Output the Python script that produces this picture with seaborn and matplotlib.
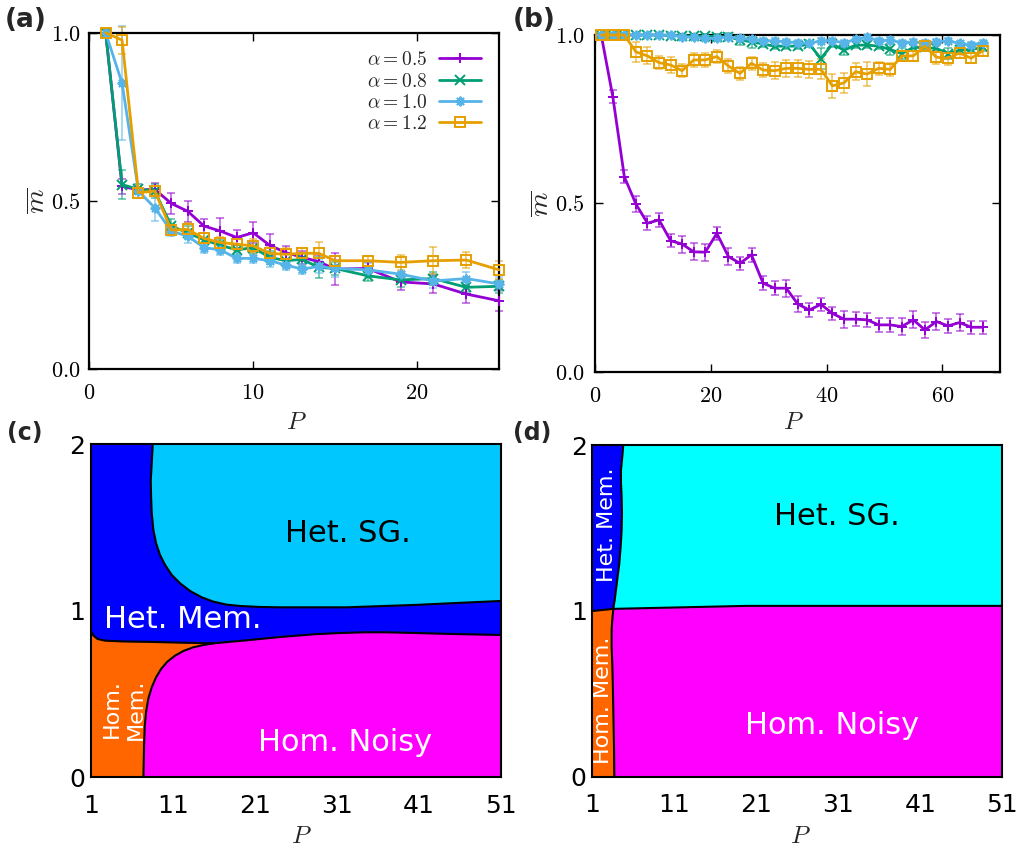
import numpy as np
import matplotlib
matplotlib.use("Agg")
import matplotlib.pyplot as plt
import seaborn as sns

# ---- (a) m vs P, small P
P_a = [1, 2, 3, 4, 5, 6, 7, 8, 9, 10, 11, 12, 13, 14, 15, 17, 19, 21, 23, 25]
m05_a = [1.0, 0.544, 0.533, 0.535, 0.493, 0.470, 0.426, 0.411, 0.392, 0.406,
         0.369, 0.347, 0.333, 0.320, 0.298, 0.300, 0.260, 0.254, 0.224, 0.204]
m08_a = [1.0, 0.549, 0.535, 0.530, 0.426, 0.406, 0.385, 0.369, 0.355, 0.362,
         0.333, 0.323, 0.327, 0.303, 0.300, 0.278, 0.266, 0.270, 0.244, 0.247]
m10_a = [1.0, 0.850, 0.530, 0.480, 0.411, 0.396, 0.362, 0.355, 0.330, 0.330,
         0.323, 0.310, 0.298, 0.306, 0.300, 0.296, 0.283, 0.263, 0.270, 0.254]
m12_a = [1.0, 0.978, 0.525, 0.530, 0.414, 0.416, 0.389, 0.377, 0.372, 0.367,
         0.345, 0.342, 0.345, 0.345, 0.323, 0.323, 0.318, 0.323, 0.325, 0.296]
e05_a = [0.01, 0.022, 0.01, 0.02, 0.03, 0.031, 0.022, 0.04, 0.023, 0.031,
         0.032, 0.02, 0.02, 0.02, 0.048, 0.02, 0.025, 0.027, 0.026, 0.031]
e08_a = [0.01, 0.042, 0.015, 0.02, 0.02, 0.02, 0.02, 0.015, 0.015, 0.02,
         0.02, 0.02, 0.02, 0.03, 0.02, 0.015, 0.02, 0.02, 0.015, 0.02]
e10_a = [0.01, 0.17, 0.02, 0.04, 0.015, 0.02, 0.015, 0.015, 0.015, 0.015,
         0.02, 0.015, 0.015, 0.02, 0.025, 0.02, 0.02, 0.02, 0.02, 0.02]
e12_a = [0.01, 0.04, 0.015, 0.015, 0.015, 0.02, 0.015, 0.015, 0.02, 0.02,
         0.02, 0.02, 0.015, 0.033, 0.015, 0.015, 0.022, 0.04, 0.025, 0.027]

# ---- (b) m vs P, large P
P_b = [1, 3, 5, 7, 9, 11, 13, 15, 17, 19, 21, 23, 25, 27, 29, 31, 33,
       35, 37, 39, 41, 43, 45, 47, 49, 51, 53, 55, 57, 59, 61, 63, 65, 67]
m05_b = [1.0, 0.817, 0.579, 0.498, 0.441, 0.451, 0.389, 0.379, 0.356, 0.355,
         0.411, 0.342, 0.322, 0.347, 0.263, 0.248, 0.248, 0.201, 0.183, 0.200,
         0.173, 0.156, 0.156, 0.154, 0.139, 0.139, 0.134, 0.154, 0.124, 0.149,
         0.136, 0.146, 0.132, 0.132]
m08_b = [1.0, 1.0, 1.0, 1.0, 1.0, 1.0, 0.998, 0.998, 0.997, 0.997, 0.995,
         0.995, 0.985, 0.980, 0.973, 0.967, 0.967, 0.967, 0.973, 0.930, 0.973,
         0.955, 0.970, 0.970, 0.967, 0.957, 0.945, 0.963, 0.963, 0.960, 0.945,
         0.955, 0.957, 0.963]
m10_b = [1.0, 1.0, 1.0, 1.0, 1.0, 1.0, 1.0, 0.995, 0.993, 0.990, 0.990, 0.995,
         0.990, 0.987, 0.983, 0.983, 0.980, 0.977, 0.975, 0.983, 0.983, 0.977,
         0.987, 0.993, 0.983, 0.985, 0.977, 0.980, 0.977, 0.980, 0.983, 0.975,
         0.970, 0.977]
m12_b = [1.0, 1.0, 1.0, 0.950, 0.938, 0.918, 0.911, 0.894, 0.926, 0.926, 0.936,
         0.908, 0.886, 0.916, 0.896, 0.894, 0.901, 0.901, 0.898, 0.898, 0.849,
         0.858, 0.891, 0.884, 0.901, 0.898, 0.938, 0.938, 0.967, 0.934, 0.931,
         0.947, 0.931, 0.953]
e05_b = [0.005, 0.02, 0.02, 0.025, 0.02, 0.02, 0.02, 0.025, 0.025, 0.025, 0.02,
         0.025, 0.02, 0.02, 0.02, 0.02, 0.025, 0.025, 0.02, 0.02, 0.02, 0.025,
         0.02, 0.02, 0.02, 0.02, 0.025, 0.025, 0.025, 0.025, 0.02, 0.025, 0.02, 0.02]
e08_b = [0.003, 0.003, 0.003, 0.003, 0.003, 0.003, 0.005, 0.005, 0.005, 0.005,
         0.008, 0.01, 0.015, 0.02, 0.01, 0.01, 0.01, 0.01, 0.01, 0.03, 0.01,
         0.015, 0.01, 0.01, 0.01, 0.015, 0.015, 0.01, 0.01, 0.01, 0.015, 0.01, 0.01, 0.01]
e10_b = [0.003, 0.003, 0.003, 0.003, 0.003, 0.003, 0.005, 0.005, 0.005, 0.005,
         0.005, 0.005, 0.008, 0.008, 0.008, 0.008, 0.008, 0.008, 0.008, 0.008,
         0.008, 0.008, 0.008, 0.008, 0.008, 0.008, 0.008, 0.008, 0.008, 0.008,
         0.008, 0.008, 0.008, 0.008]
e12_b = [0.005, 0.005, 0.005, 0.03, 0.025, 0.02, 0.025, 0.02, 0.02, 0.02, 0.02,
         0.02, 0.02, 0.02, 0.02, 0.025, 0.025, 0.025, 0.025, 0.03, 0.035, 0.03,
         0.025, 0.035, 0.02, 0.02, 0.015, 0.015, 0.015, 0.02, 0.02, 0.015, 0.015, 0.015]

alpha_labels = [r'$\alpha = 0.5$', r'$\alpha = 0.8$', r'$\alpha = 1.0$', r'$\alpha = 1.2$']
colores = ['#9400D3', '#009E73', '#56B4E9', '#E69F00']
marcadores = ['+', 'x', (8, 2, 0), 's']

# ---- (c) phase diagram, boundaries (P, alpha)
sg_P = [8.53, 8.41, 8.29, 8.33, 8.41, 8.61, 8.94, 9.42, 10.04, 10.85, 11.87,
        13.09, 14.51, 15.94, 17.56, 19.19, 21.63, 24.08, 32.2, 40.4, 46.5, 51.0]
sg_a = [2.0, 1.883, 1.784, 1.683, 1.584, 1.484, 1.404, 1.334, 1.274, 1.214, 1.164,
        1.118, 1.080, 1.054, 1.036, 1.028, 1.022, 1.020, 1.02, 1.034, 1.048, 1.058]
low_P = [1.0, 1.3, 1.8, 2.7, 5.0, 7.8, 11.9, 15.94, 20.0, 24.1, 28.2, 31.0,
         34.3, 37.0, 40.4, 45.0, 51.0]
low_a = [0.875, 0.85, 0.83, 0.82, 0.815, 0.813, 0.808, 0.804, 0.822, 0.842,
         0.858, 0.865, 0.87, 0.87, 0.866, 0.86, 0.854]
hom_P = [15.94, 14.72, 13.49, 12.27, 11.26, 10.32, 9.55, 8.94, 8.41, 8.0,
         7.72, 7.55, 7.47, 7.39]
hom_a = [0.804, 0.794, 0.780, 0.758, 0.730, 0.694, 0.650, 0.600, 0.540, 0.474,
         0.394, 0.304, 0.184, 0.0]

# ---- (d) phase diagram, boundaries
up_P = [4.78, 4.66, 4.5, 4.5, 4.58, 4.62, 4.58, 4.46, 4.30, 4.09, 3.89, 3.73, 3.57]
up_a = [2.0, 1.930, 1.849, 1.769, 1.688, 1.588, 1.487, 1.387, 1.287, 1.206,
        1.126, 1.065, 1.012]
hz_P = [1.0, 3.57, 11.7, 19.8, 32.0, 51.0]
hz_a = [0.999, 1.012, 1.021, 1.03, 1.03, 1.03]
dn_P = [3.57, 3.44, 3.36, 3.36, 3.44, 3.52, 3.57, 3.65, 3.69]
dn_a = [1.012, 0.945, 0.885, 0.784, 0.683, 0.523, 0.382, 0.181, 0.0]

fase_P_ticks = [1, 11, 21, 31, 41, 51]
fase_a_ticks = [0, 1, 2]

c_hetmem = '#0000FF'
c_sg_c = '#00C8FF'
c_sg_d = '#00FFFF'
c_hommem = '#FF6600'
c_noisy = '#FF00FF'

sns.set_theme(style="ticks")
plt.rcParams['font.family'] = ['DejaVu Sans']
plt.rcParams['mathtext.fontset'] = 'cm'
plt.rcParams['axes.edgecolor'] = 'black'
plt.rcParams['xtick.color'] = 'black'
plt.rcParams['ytick.color'] = 'black'

fig = plt.figure(figsize=(10.24, 8.48), dpi=100)
ax_a = fig.add_axes([0.0872, 0.5643, 0.4001, 0.3971])
ax_b = fig.add_axes([0.5815, 0.5617, 0.3951, 0.3970])
ax_c = fig.add_axes([0.0889, 0.0834, 0.4001, 0.3930])
ax_d = fig.add_axes([0.5784, 0.0841, 0.4004, 0.3911])


def curvas(ax, P, series, errs, con_label):
    for m, e, lab, col, mk in zip(series, errs, alpha_labels, colores, marcadores):
        ax.errorbar(P, m, yerr=e, fmt='none', ecolor=col, elinewidth=1.2,
                    capsize=3, capthick=1.2, alpha=0.6, zorder=2, clip_on=False)
        extra = {'label': lab} if con_label else {}
        sns.lineplot(x=P, y=m, ax=ax, color=col, lw=2, marker=mk, ms=7,
                     mec=col, mew=1.4, mfc='none', zorder=3, clip_on=False, **extra)


def estilo_curvas(ax, xt, xl, px, py, xlab_pos, ylab_pos):
    ax.set_ylim(0, 1)
    ax.set_yticks([0, 0.5, 1.0])
    ax.set_yticklabels(['$0.0$', '$0.5$', '$1.0$'])
    ax.set_xticks(xt)
    ax.set_xticklabels(xl)
    ax.tick_params(axis='both', direction='in', top=True, right=True,
                   length=6, width=1, labelsize=16)
    ax.tick_params(axis='x', pad=px)
    ax.tick_params(axis='y', pad=py)
    for s in ax.spines.values():
        s.set_linewidth(1.6)
        s.set_color('black')
    ax.set_xlabel('$P$', fontsize=18)
    ax.set_ylabel(r'$\overline{m}$', fontsize=20)
    ax.xaxis.set_label_coords(*xlab_pos)
    ax.yaxis.set_label_coords(*ylab_pos)


# (a)
curvas(ax_a, P_a, [m05_a, m08_a, m10_a, m12_a], [e05_a, e08_a, e10_a, e12_a], True)
ax_a.set_xlim(0, 25)
estilo_curvas(ax_a, [0, 10, 20], ['$0$', '$10$', '$20$'], 10, 6.5,
              (0.506, -0.12), (-0.093, 0.5))
ax_a.legend(loc='upper right', frameon=False, markerfirst=False, fontsize=14,
            handlelength=2.2, handletextpad=0.6, labelspacing=0.12,
            borderaxespad=0.5)

# (b)
curvas(ax_b, P_b, [m05_b, m08_b, m10_b, m12_b], [e05_b, e08_b, e10_b, e12_b], False)
ax_b.set_xlim(0, 70)
estilo_curvas(ax_b, [0, 20, 40, 60], ['$0$', '$20$', '$40$', '$60$'], 10, 8,
              (0.488, -0.114), (-0.099, 0.5))


def estilo_fase(ax):
    ax.set_xlim(1, 51)
    ax.set_ylim(0, 2)
    ax.set_xticks(fase_P_ticks)
    ax.set_yticks(fase_a_ticks)
    ax.tick_params(axis='both', length=0, labelsize=18)
    ax.tick_params(axis='x', pad=12)
    ax.tick_params(axis='y', pad=4)
    for s in ax.spines.values():
        s.set_linewidth(1.5)
        s.set_color('black')
        s.set_zorder(5)
    ax.set_xlabel('$P$', fontsize=18)


# (c)
ax_c.fill_between([1, 51], 0, 2, color=c_hetmem, lw=0)
ax_c.fill(sg_P + [51], sg_a + [2], color=c_sg_c, lw=0)
ax_c.fill_between(low_P, 0, low_a, color=c_hommem, lw=0)
cola_P = [p for p in low_P if p > hom_P[0]][::-1]
cola_a = [a for p, a in zip(low_P, low_a) if p > hom_P[0]][::-1]
ax_c.fill(hom_P + [51] + cola_P, hom_a + [0] + cola_a, color=c_noisy, lw=0)
for bx, by in [(sg_P, sg_a), (low_P, low_a), (hom_P, hom_a)]:
    ax_c.plot(bx, by, color='black', lw=1.5, zorder=4, solid_joinstyle='round')
estilo_fase(ax_c)
ax_c.xaxis.set_label_coords(0.514, -0.14)
ax_c.text(32.4, 1.46, 'Het. SG.', color='black', fontsize=22, ha='center', va='center')
ax_c.text(2.6, 0.944, 'Het. Mem.', color='white', fontsize=22, ha='left', va='center')
ax_c.text(32.0, 0.21, 'Hom. Noisy', color='white', fontsize=22, ha='center', va='center')
ax_c.text(4.95, 0.41, 'Hom.\nMem.', color='white', fontsize=16, ha='center',
          va='center', rotation=90, linespacing=1.25)

# (d)
ax_d.fill_between([1, 51], 0, 2, color=c_sg_d, lw=0)
ax_d.fill_between(hz_P, 0, hz_a, color=c_noisy, lw=0)
ax_d.fill([1] + up_P + [1], [2] + up_a + [hz_a[0]], color=c_hetmem, lw=0)
ax_d.fill([1] + dn_P + [1], [hz_a[0]] + dn_a + [0], color=c_hommem, lw=0)
for bx, by in [(up_P, up_a), (hz_P, hz_a), (dn_P, dn_a)]:
    ax_d.plot(bx, by, color='black', lw=1.5, zorder=4, solid_joinstyle='round')
estilo_fase(ax_d)
ax_d.xaxis.set_label_coords(0.507, -0.143)
ax_d.text(30.8, 1.57, 'Het. SG.', color='black', fontsize=22, ha='center', va='center')
ax_d.text(30.3, 0.31, 'Hom. Noisy', color='white', fontsize=22, ha='center', va='center')
ax_d.text(2.76, 1.52, 'Het. Mem.', color='white', fontsize=16, ha='center',
          va='center', rotation=90)
ax_d.text(2.35, 0.46, 'Hom. Mem.', color='white', fontsize=16, ha='center',
          va='center', rotation=90)

# panel letters
fig.text(0.005, 0.992, '(a)', fontsize=19, fontweight='bold', va='top', ha='left')
fig.text(0.501, 0.992, '(b)', fontsize=19, fontweight='bold', va='top', ha='left')
fig.text(0.007, 0.503, '(c)', fontsize=17, fontweight='bold', va='top', ha='left')
fig.text(0.501, 0.503, '(d)', fontsize=17, fontweight='bold', va='top', ha='left')

fig.savefig('out.png', dpi=100)
